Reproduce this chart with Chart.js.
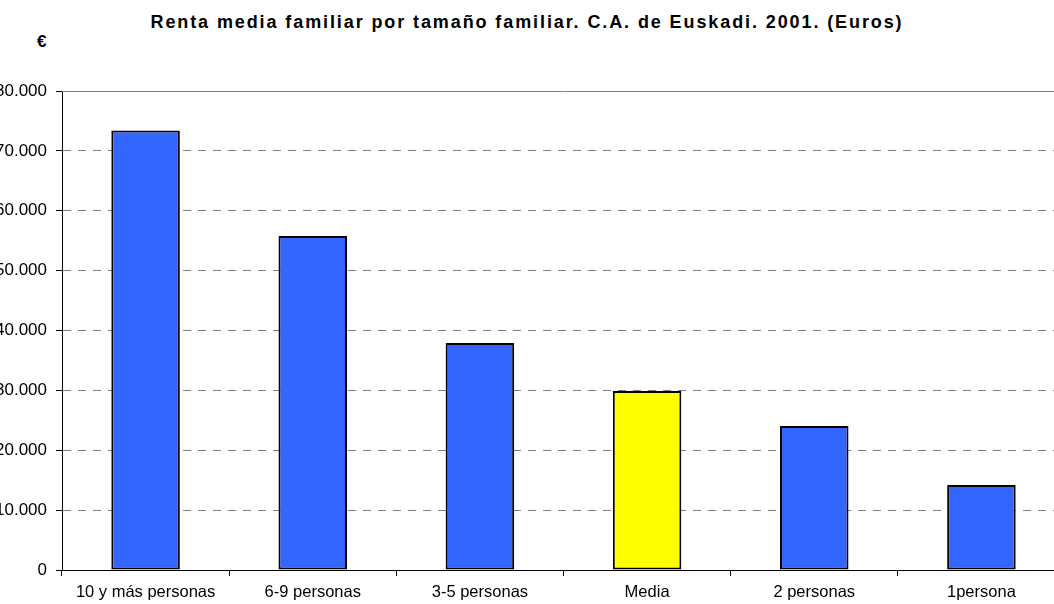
<!DOCTYPE html>
<html>
<head>
<meta charset="utf-8">
<script src="https://cdn.jsdelivr.net/npm/chart.js@4.4.0/dist/chart.umd.min.js"></script>
<style>
  html, body { margin: 0; padding: 0; background: #fff; overflow: hidden; }
  body { width: 1054px; height: 604px; position: relative; font-family: "Liberation Sans", Arial, sans-serif; }
  #titulo {
    position: absolute; left: 0; top: 12px; width: 1054px; text-align: center;
    font-weight: bold; font-size: 18px; letter-spacing: 1.9px; color: #000; white-space: nowrap;
  }
  #euro { position: absolute; left: 37px; top: 32px; font-weight: bold; font-size: 17px; color: #000; }
  #wrap { position: absolute; left: -30px; top: 0; width: 1110px; height: 604px; }
</style>
</head>
<body>
<div id="titulo">Renta media familiar por tamaño familiar. C.A. de Euskadi. 2001. (Euros)</div>
<div id="euro">€</div>
<div id="wrap"><canvas id="grafico"></canvas></div>
<script>
// datos
const categorias = ['10 y más personas', '6-9 personas', '3-5 personas', 'Media', '2 personas', '1persona'];
const renta = [73400, 55800, 37900, 29900, 24050, 14200];
const coloresBarra = ['#3366ff', '#3366ff', '#3366ff', '#ffff00', '#3366ff', '#3366ff'];
const ejeY = { min: 0, max: 80000, paso: 10000 };

// linea superior continua (80.000)
const lineaSuperior = {
  id: 'lineaSuperior',
  afterDatasetsDraw(chart) {
    const { ctx, chartArea, scales } = chart;
    const y = Math.round(scales.y.getPixelForValue(ejeY.max)) + 0.5;
    ctx.save();
    ctx.strokeStyle = '#808080';
    ctx.lineWidth = 1;
    ctx.beginPath();
    ctx.moveTo(chartArea.left, y);
    ctx.lineTo(chartArea.right, y);
    ctx.stroke();
    ctx.restore();
  }
};

const formatoMiles = v => v === 0 ? '0' : v.toLocaleString('de-DE');

new Chart(document.getElementById('grafico'), {
  type: 'bar',
  data: {
    labels: categorias,
    datasets: [{
      data: renta,
      backgroundColor: coloresBarra,
      borderColor: '#000',
      borderWidth: 2,
      borderSkipped: false,
      barPercentage: 0.41,
      categoryPercentage: 1
    }]
  },
  options: {
    responsive: true,
    maintainAspectRatio: false,
    animation: false,
    layout: { padding: { top: 91, right: 15, bottom: 0, left: 0 } },
    plugins: { legend: { display: false }, tooltip: { enabled: false }, title: { display: false } },
    scales: {
      x: {
        afterFit: s => { s.height = 34; },
        grid: { drawOnChartArea: false, tickLength: 6, tickColor: '#000', tickWidth: 1 },
        border: { color: '#000', width: 1 },
        ticks: { color: '#000', padding: 7, font: { family: 'Liberation Sans', size: 16.5 } }
      },
      y: {
        min: ejeY.min,
        max: ejeY.max,
        afterFit: s => { s.width = 92; },
        grid: {
          color: ctx => (ctx.tick.value === ejeY.min || ctx.tick.value === ejeY.max) ? 'rgba(0,0,0,0)' : '#808080',
          lineWidth: 1, tickLength: 6, tickColor: '#000', tickWidth: 1
        },
        border: { color: '#000', width: 1, dash: [8, 7] },
        ticks: {
          stepSize: ejeY.paso, color: '#000', padding: 9,
          font: { family: 'Liberation Sans', size: 17 },
          callback: v => formatoMiles(v)
        }
      }
    }
  },
  plugins: [lineaSuperior]
});
</script>
</body>
</html>
